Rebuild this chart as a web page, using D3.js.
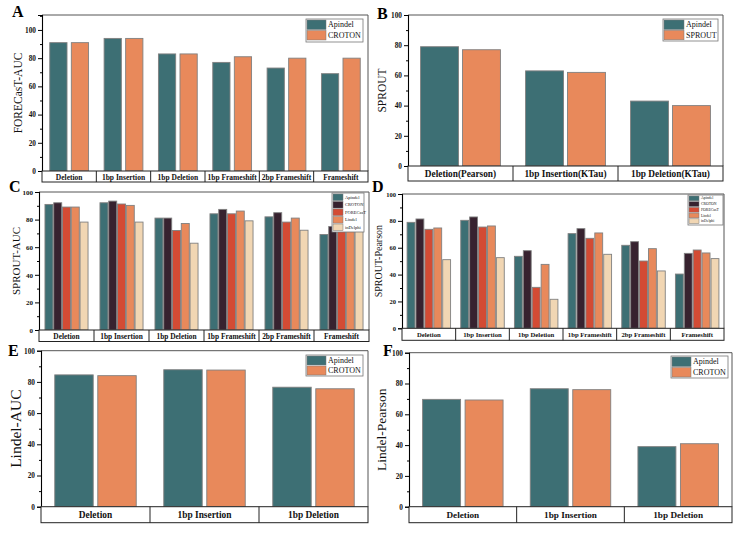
<!DOCTYPE html>
<html><head><meta charset="utf-8">
<script src="https://cdn.jsdelivr.net/npm/d3@7"></script>
<style>body{margin:0;background:#fff}svg{display:block}text{font-family:"Liberation Serif","Times New Roman",serif}</style>
</head><body><svg id="c" width="740" height="533"></svg>
<script>
// ---------- data ----------
const catsA = ["Deletion","1bp Insertion","1bp Deletion","1bp Frameshift","2bp Frameshift","Frameshift"];
const apindelA = [91,94,83,77,73,69];
const crotonA  = [91,94,83,81,80,80];

const catsB = ["Deletion(Pearson)","1bp Insertion(KTau)","1bp Deletion(KTau)"];
const apindelB = [79,63,43];
const sproutB  = [77,62,40];

const catsC = catsA;
const apindelC  = [91,92.2,81.1,84.2,82,69.2];
const crotonC   = [92.2,93.4,81.1,87.4,85,75];
const forecastC = [89.1,91.3,72.1,84.2,78.2,77];
const lindelC   = [89.1,90.3,77.2,86.2,81.1,77];
const indelphiC = [78.2,78.2,62.9,79.1,72.3,73.3];

const catsD = catsA;
const apindelD  = [78.9,80.4,53.6,70.5,61.8,40.4];
const crotonD   = [81.4,82.9,57.8,74.2,64.5,55.8];
const forecastD = [73.7,75.4,30.5,67,50.1,58.3];
const lindelD   = [74.7,76.2,47.6,71,59.3,56.1];
const indelphiD = [51.1,52.6,21.6,55.1,42.7,51.9];

const catsE = ["Deletion","1bp Insertion","1bp Deletion"];
const apindelE = [84.5,87.8,76.6];
const crotonE  = [84,87.6,75.6];

const catsF = catsE;
const apindelF = [69.7,76.6,39];
const crotonF  = [69.3,76,40.9];

const yTicks = [0,20,40,60,80,100];

// ---------- colours ----------
const cTeal="#3d6f74", cPurple="#37222f", cRed="#d34b34", cOrange="#e8895b", cBeige="#f1d6b3";

const svg = d3.select("#c");

function panel(cfg){
  const g = svg.append("g");
  const x = d3.scaleBand().domain(cfg.cats).range([cfg.left, cfg.right]).padding(0);
  const names = cfg.series.map(s=>s.name);
  const xi = d3.scaleBand().domain(names).range([0, x.bandwidth()]).paddingInner(cfg.pi).paddingOuter(cfg.po);
  const y = d3.scaleLinear().domain([0, cfg.yMax]).range([cfg.bottom, cfg.top]);

  // bars
  cfg.series.forEach(s=>{
    g.append("g").selectAll("rect").data(cfg.cats).join("rect")
      .attr("x", (d)=>x(d)+xi(s.name))
      .attr("width", xi.bandwidth())
      .attr("y", (d,i)=>y(s.values[i]))
      .attr("height", (d,i)=>y(0)-y(s.values[i]))
      .attr("fill", s.color)
      .attr("stroke", "#808080").attr("stroke-width", 0.9);
  });

  // frame top/right
  g.append("path").attr("d", `M${cfg.left},${cfg.top}H${cfg.right}V${cfg.bottom}`)
    .attr("fill","none").attr("stroke","#555").attr("stroke-width",1);

  // y axis
  const ax = g.append("g").attr("transform",`translate(${cfg.left},0)`)
    .call(d3.axisLeft(y).tickValues(yTicks).tickSize(4).tickPadding(2).tickFormat(d3.format("d")));
  ax.select(".domain").attr("stroke","#000").attr("stroke-width",1.1);
  ax.selectAll(".tick line").attr("stroke","#000");
  ax.selectAll("text").attr("font-size", cfg.tickFs).attr("font-weight","bold").attr("fill","#111");
  const minor = d3.range(10, cfg.yMax+0.1, 20);
  const axm = g.append("g").attr("transform",`translate(${cfg.left},0)`)
    .call(d3.axisLeft(y).tickValues(minor).tickSize(2).tickFormat(""));
  axm.select(".domain").remove();
  axm.selectAll(".tick line").attr("stroke","#000");

  // category band (table-like)
  const bg = g.append("g");
  bg.append("rect").attr("x",cfg.left).attr("y",cfg.bottom).attr("width",cfg.right-cfg.left).attr("height",cfg.bandH)
    .attr("fill","#fff").attr("stroke","#222").attr("stroke-width",1);
  bg.selectAll("line").data(cfg.cats.slice(1)).join("line")
    .attr("x1",d=>x(d)).attr("x2",d=>x(d)).attr("y1",cfg.bottom).attr("y2",cfg.bottom+cfg.bandH)
    .attr("stroke","#222").attr("stroke-width",1);
  bg.selectAll("text").data(cfg.cats).join("text")
    .attr("x",d=>x(d)+x.bandwidth()/2).attr("y",cfg.bottom+cfg.bandH/2+0.5)
    .attr("text-anchor","middle").attr("dominant-baseline","central")
    .attr("font-size",cfg.labelFs).attr("font-weight","bold").attr("fill","#111").text(d=>d);

  // y title
  g.append("text").attr("transform",`translate(${cfg.titleX},${(cfg.top+cfg.bottom)/2}) rotate(-90)`)
    .attr("text-anchor","middle").attr("dominant-baseline","central")
    .attr("font-size",cfg.titleFs).attr("fill","#111").text(cfg.title);

  // panel letter
  g.append("text").attr("x",cfg.letterX).attr("y",cfg.letterY).attr("font-size",16).attr("font-weight","bold")
    .attr("fill","#000").text(cfg.letter);

  // legend
  const L = cfg.legend;
  const lg = g.append("g");
  lg.append("rect").attr("x",L.x).attr("y",L.y).attr("width",L.w).attr("height",L.h)
    .attr("fill","#fff").attr("stroke","#777").attr("stroke-width",0.8);
  cfg.series.forEach((s,i)=>{
    lg.append("rect").attr("x",L.x+1).attr("y",L.y+1+i*L.rowH).attr("width",L.sw).attr("height",L.sh)
      .attr("fill",s.color).attr("stroke","#777").attr("stroke-width",0.5);
    lg.append("text").attr("x",L.x+L.sw+3).attr("y",L.y+1+i*L.rowH+L.sh/2)
      .attr("dominant-baseline","central").attr("font-size",L.fs).attr("fill","#111").text(s.name);
  });
}

const two = (a,b,na,nb)=>[{name:na,values:a,color:cTeal},{name:nb,values:b,color:cOrange}];
const five = (a,b,c,d,e)=>[
  {name:"Apindel",values:a,color:cTeal},{name:"CROTON",values:b,color:cPurple},
  {name:"FORECasT",values:c,color:cRed},{name:"Lindel",values:d,color:cOrange},
  {name:"inDelphi",values:e,color:cBeige}];

panel({left:42,right:368,top:15,bottom:171,bandH:11,yMax:110.6,cats:catsA,
  series:two(apindelA,crotonA,"Apindel","CROTON"),pi:0.2,po:0.36,
  title:"FORECasT-AUC",titleX:18,titleFs:11.5,letter:"A",letterX:12,letterY:17,labelFs:7.5,tickFs:7.3,
  legend:{x:306,y:19,w:57,h:23,sw:19,sh:9.5,rowH:10.5,fs:8}});

panel({left:408,right:723,top:15,bottom:166,bandH:15,yMax:100,cats:catsB,
  series:two(apindelB,sproutB,"Apindel","SPROUT"),pi:0.095,po:0.3,
  title:"SPROUT",titleX:382,titleFs:11.5,letter:"B",letterX:377,letterY:19,labelFs:9.3,tickFs:7.3,
  legend:{x:663,y:19,w:55,h:22,sw:20,sh:9.5,rowH:10.3,fs:8}});

panel({left:39,right:369,top:192,bottom:330,bandH:11.5,yMax:100,cats:catsC,
  series:five(apindelC,crotonC,forecastC,lindelC,indelphiC),pi:0.09,po:0.68,
  title:"SPROUT-AUC",titleX:16,titleFs:11,letter:"C",letterX:9,letterY:192,labelFs:7.4,tickFs:7,
  legend:{x:332,y:193,w:32,h:39,sw:10,sh:6.6,rowH:7.5,fs:4.5}});

panel({left:402,right:724,top:194,bottom:328.3,bandH:12,yMax:100,cats:catsD,
  series:five(apindelD,crotonD,forecastD,lindelD,indelphiD),pi:0.115,po:0.57,
  title:"SPROUT-Pearson",titleX:378,titleFs:10,letter:"D",letterX:372,letterY:192,labelFs:6.7,tickFs:6.5,
  legend:{x:688,y:195,w:35,h:30,sw:10,sh:4.8,rowH:5.7,fs:3.8}});

panel({left:41,right:368,top:350.7,bottom:506.7,bandH:16,yMax:100,cats:catsE,
  series:two(apindelE,crotonE,"Apindel","CROTON"),pi:0.106,po:0.32,
  title:"Lindel-AUC",titleX:15,titleFs:15.5,letter:"E",letterX:8,letterY:356,labelFs:9.4,tickFs:7.3,
  legend:{x:306,y:355,w:57,h:21,sw:19,sh:9,rowH:10,fs:8}});

panel({left:409,right:732,top:352.7,bottom:506.7,bandH:16,yMax:100,cats:catsF,
  series:two(apindelF,crotonF,"Apindel","CROTON"),pi:0.106,po:0.32,
  title:"Lindel-Pearson",titleX:381,titleFs:13.5,letter:"F",letterX:383,letterY:356,labelFs:9.2,tickFs:7.3,
  legend:{x:671,y:356,w:57,h:22,sw:19,sh:9.5,rowH:10.5,fs:8}});
</script></body></html>
